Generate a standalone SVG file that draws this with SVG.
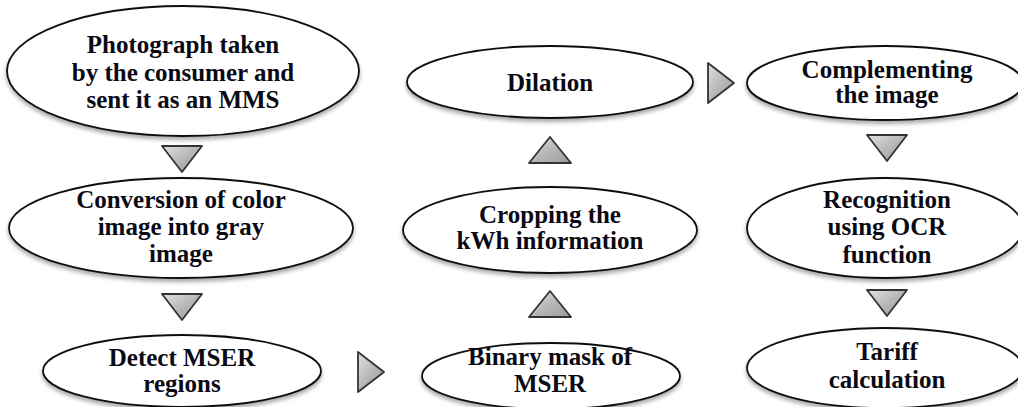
<svg xmlns="http://www.w3.org/2000/svg" width="1018" height="407" viewBox="0 0 1018 407">
  <defs>
    <filter id="shadow" x="-10%" y="-20%" width="120%" height="150%">
      <feGaussianBlur in="SourceAlpha" stdDeviation="2"/>
      <feOffset dx="0" dy="3"/>
      <feComponentTransfer><feFuncA type="linear" slope="0.35"/></feComponentTransfer>
      <feMerge><feMergeNode/><feMergeNode in="SourceGraphic"/></feMerge>
    </filter>
    <linearGradient id="arrowFill" x1="0" y1="0" x2="1" y2="1">
      <stop offset="0" stop-color="#e2e2e2"/>
      <stop offset="0.5" stop-color="#b8b8b8"/>
      <stop offset="1" stop-color="#9a9a9a"/>
    </linearGradient>
    <!-- block arrow shapes, centred on the origin -->
    <path id="tri-down" d="M-20,-13 L20,-13 L0,13 Z"/>
    <path id="tri-up" d="M-21,13 L21,13 L0,-13 Z"/>
    <path id="tri-right" d="M-13,-20 L13,0 L-13,20 Z"/>
  </defs>
  <style>
    .node ellipse { fill: #ffffff; stroke: #111111; stroke-width: 1.8; filter: url(#shadow); }
    .node text { font-family: "Liberation Serif", "Times New Roman", serif; font-weight: bold; font-size: 25px; fill: #0a0a14; text-anchor: middle; }
    .arrow { fill: url(#arrowFill); stroke: #333333; stroke-width: 1.8; stroke-linejoin: round; }
  </style>

  <rect width="1018" height="407" fill="#ffffff"/>

  <g id="connectors">
    <use href="#tri-down" class="arrow" x="182" y="159"/>
    <use href="#tri-down" class="arrow" x="182" y="307"/>
    <use href="#tri-right" class="arrow" x="371" y="372"/>
    <use href="#tri-up" class="arrow" x="550" y="304"/>
    <use href="#tri-up" class="arrow" x="550" y="150"/>
    <use href="#tri-right" class="arrow" x="721" y="83"/>
    <use href="#tri-down" class="arrow" x="887" y="148"/>
    <use href="#tri-down" class="arrow" x="887" y="303"/>
  </g>

  <g id="node-photograph" class="node">
    <ellipse cx="183" cy="71" rx="176" ry="65"/>
    <text x="183" y="53">Photograph taken</text>
    <text x="183" y="81">by the consumer and</text>
    <text x="183" y="108">sent it as an MMS</text>
  </g>

  <g id="node-conversion" class="node">
    <ellipse cx="181" cy="228" rx="172" ry="50"/>
    <text x="181" y="208">Conversion of color</text>
    <text x="181" y="235">image into gray</text>
    <text x="181" y="262">image</text>
  </g>

  <g id="node-detect" class="node">
    <ellipse cx="182" cy="371" rx="139" ry="36"/>
    <text x="182" y="366">Detect MSER</text>
    <text x="182" y="392">regions</text>
  </g>

  <g id="node-binary" class="node">
    <ellipse cx="551" cy="376" rx="129" ry="33"/>
    <text x="550" y="365">Binary mask of</text>
    <text x="550" y="392">MSER</text>
  </g>

  <g id="node-cropping" class="node">
    <ellipse cx="550" cy="230" rx="147" ry="43"/>
    <text x="550" y="223">Cropping the</text>
    <text x="550" y="249">kWh information</text>
  </g>

  <g id="node-dilation" class="node">
    <ellipse cx="550" cy="82" rx="143" ry="36"/>
    <text x="550" y="91">Dilation</text>
  </g>

  <g id="node-complementing" class="node">
    <ellipse cx="885" cy="83" rx="138" ry="37"/>
    <text x="887" y="78">Complementing</text>
    <text x="887" y="103">the image</text>
  </g>

  <g id="node-recognition" class="node">
    <ellipse cx="885" cy="228" rx="138" ry="50"/>
    <text x="887" y="208">Recognition</text>
    <text x="887" y="235">using OCR</text>
    <text x="887" y="263">function</text>
  </g>

  <g id="node-tariff" class="node">
    <ellipse cx="885" cy="368" rx="138" ry="40"/>
    <text x="887" y="360">Tariff</text>
    <text x="887" y="388">calculation</text>
  </g>
</svg>
